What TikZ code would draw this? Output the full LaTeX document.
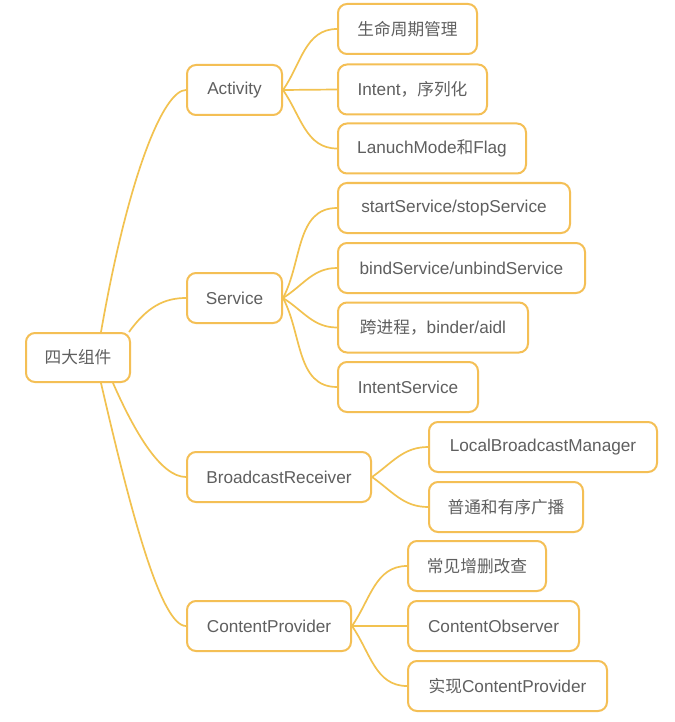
\documentclass[tikz,border=0pt]{standalone}
\usepackage{fontspec}
\setmainfont{Liberation Sans}
\newfontfamily\cjk[Scale=0.97]{Noto Sans CJK SC}
\usetikzlibrary{calc}
\definecolor{boxc}{HTML}{F4BF55}
\definecolor{linec}{HTML}{F2C250}
\definecolor{txtc}{HTML}{5F5F5F}
\tikzset{
  box/.style={draw=boxc, line width=2pt, rounded corners=9pt, fill=white,
    minimum height=50pt, anchor=west, text=txtc, inner xsep=0pt,
    font=\fontsize{17.2}{19}\selectfont},
  conn/.style={draw=linec, line width=1.7pt},
}
\begin{document}
\begin{tikzpicture}[x=1pt,y=-1pt]
\useasboundingbox (0,0) rectangle (674,722);
\fill[white] (0,0) rectangle (674,722);
% nodes
\node[box, minimum width=104pt, minimum height=49pt] (root) at (25,357.5) {\cjk 四大组件};
\node[box, minimum width=95pt] (act) at (186,90) {Activity};
\node[box, minimum width=95pt] (ser) at (186,298) {Service};
\node[box, minimum width=184pt] (brc) at (186,477) {BroadcastReceiver};
\node[box, minimum width=164pt] (cp) at (186,626) {ContentProvider};
\node[box, minimum width=139pt] (a1) at (337,29) {\cjk 生命周期管理};
\node[box, minimum width=149pt] (a2) at (337,89.5) {Intent{\cjk ，序列化}};
\node[box, minimum width=188pt] (a3) at (337,148.5) {LanuchMode{\cjk 和}Flag};
\node[box, minimum width=232pt] (s1) at (337,208) {startService/stopService};
\node[box, minimum width=247pt] (s2) at (337,268) {bindService/unbindService};
\node[box, minimum width=190pt] (s3) at (337,327.5) {{\cjk 跨进程，}binder/aidl};
\node[box, minimum width=140pt] (s4) at (337,387) {IntentService};
\node[box, minimum width=228pt] (b1) at (428,447) {LocalBroadcastManager};
\node[box, minimum width=154pt] (b2) at (428,507) {\cjk 普通和有序广播};
\node[box, minimum width=138pt] (c1) at (407,566) {\cjk 常见增删改查};
\node[box, minimum width=171pt] (c2) at (407,626) {ContentObserver};
\node[box, minimum width=199pt] (c3) at (407,686) {{\cjk 实现}ContentProvider};
% root connectors
\draw[conn] ([xshift=23pt]root.north) .. controls +(28,-160) and +(-22,0) .. (act.west);
\draw[conn] ([xshift=-2pt]root.north east) .. controls +(18,-25) and +(-22,0) .. (ser.west);
\draw[conn] ([xshift=35pt]root.south) .. controls +(22,50) and +(-25,0) .. (brc.west);
\draw[conn] ([xshift=23pt]root.south) .. controls +(30,130) and +(-25,0) .. (cp.west);
% child connectors
\draw[conn] (act.east) to[out=55,in=180] (a1.west);
\draw[conn] (act.east) -- (a2.west);
\draw[conn] (act.east) to[out=-55,in=180] (a3.west);
\draw[conn] (ser.east) to[out=62,in=180] (s1.west);
\draw[conn] (ser.east) to[out=32,in=180] (s2.west);
\draw[conn] (ser.east) to[out=-32,in=180] (s3.west);
\draw[conn] (ser.east) to[out=-62,in=180] (s4.west);
\draw[conn] (brc.east) to[out=35,in=180] (b1.west);
\draw[conn] (brc.east) to[out=-35,in=180] (b2.west);
\draw[conn] (cp.east) to[out=55,in=180] (c1.west);
\draw[conn] (cp.east) -- (c2.west);
\draw[conn] (cp.east) to[out=-55,in=180] (c3.west);
\end{tikzpicture}
\end{document}
